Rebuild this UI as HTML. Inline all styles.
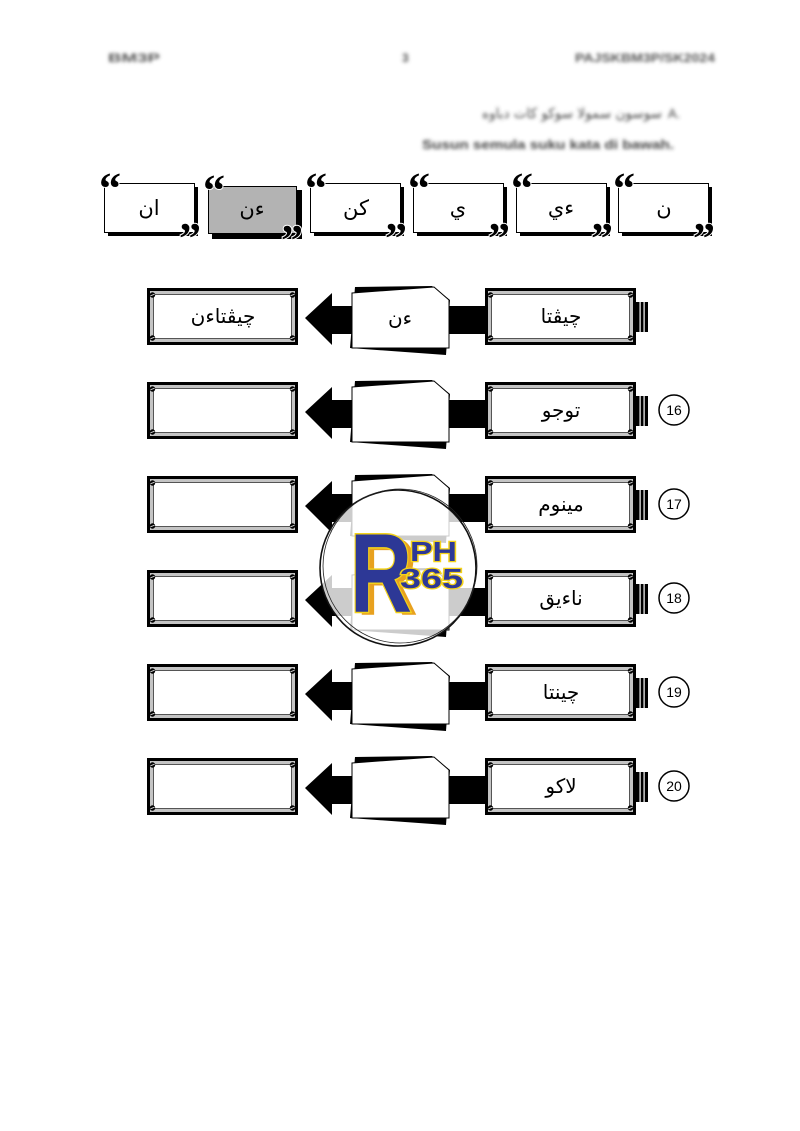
<!DOCTYPE html>
<html><head><meta charset="utf-8"><style>
html,body{margin:0;padding:0;background:#fff;}
svg{display:block;}
.ar{font-family:"DejaVu Sans","Liberation Sans",sans-serif;}
</style></head><body>
<svg width="800" height="1131" viewBox="0 0 800 1131" xmlns="http://www.w3.org/2000/svg">
<defs>
<filter id="bl" x="-10%" y="-50%" width="120%" height="200%"><feGaussianBlur stdDeviation="1.9"/></filter>
<g id="frame">
  <rect x="1.5" y="1.5" width="148" height="54" fill="#fff" stroke="#000" stroke-width="3"/>
  <rect x="4.5" y="4.5" width="142" height="48" fill="none" stroke="#c4c4c4" stroke-width="3"/>
  <rect x="6.5" y="6.5" width="138" height="44" fill="none" stroke="#555" stroke-width="1"/>
  <circle cx="5.5" cy="7" r="2.7" fill="#000"/><line x1="3.5" y1="7.6" x2="7.5" y2="6.4" stroke="#fff" stroke-width="0.8"/>
  <circle cx="145.5" cy="7" r="2.7" fill="#000"/><line x1="143.5" y1="7.6" x2="147.5" y2="6.4" stroke="#fff" stroke-width="0.8"/>
  <circle cx="5.5" cy="50" r="2.7" fill="#000"/><line x1="3.5" y1="50.6" x2="7.5" y2="49.4" stroke="#fff" stroke-width="0.8"/>
  <circle cx="145.5" cy="50" r="2.7" fill="#000"/><line x1="143.5" y1="50.6" x2="147.5" y2="49.4" stroke="#fff" stroke-width="0.8"/>
</g>
<g id="mid">
  <polygon points="305,30 332,5 332,18 486,18 486,46 332,46 332,57" fill="#000"/>
  <polygon points="355,-1 432,-2 450,12 446,67 350,60" fill="#000"/>
  <polygon points="352,5 434,-1 449,12 449,60 352,60" fill="#fff" stroke="#000" stroke-width="1"/>
</g>
<g id="stub">
  <rect x="636" y="14" width="12" height="30" fill="#000"/>
  <rect x="639.5" y="14" width="1.2" height="30" fill="#fff"/>
  <rect x="643.5" y="14" width="1.2" height="30" fill="#fff"/>
</g>
<g id="tb">
  <rect x="4" y="4" width="90" height="49" fill="#000"/>
</g>
</defs>

<!-- blurred header -->
<g filter="url(#bl)" fill="#555" font-family="Liberation Sans, sans-serif" font-weight="bold">
  <text x="108" y="62" font-size="12" textLength="52" lengthAdjust="spacingAndGlyphs">BM3P</text>
  <text x="402" y="62" font-size="12">3</text>
  <text x="575" y="62" font-size="12" textLength="140" lengthAdjust="spacingAndGlyphs">PAJSKBM3P/SK2024</text>
</g>
<g filter="url(#bl)" fill="#444">
  <text class="ar" x="572" y="118" font-size="14" text-anchor="middle" textLength="180" lengthAdjust="spacingAndGlyphs">سوسون سمولا سوکو کات دباوه</text>
  <text x="668" y="118" font-size="13" font-family="Liberation Sans, sans-serif">A.</text>
  <text x="422" y="149" font-size="13" font-weight="bold" font-family="Liberation Sans, sans-serif" textLength="252" lengthAdjust="spacingAndGlyphs">Susun semula suku kata di bawah.</text>
</g>

<!-- top syllable boxes -->
<g>
  <use href="#tb" x="104" y="183"/><rect x="104.5" y="183.5" width="90" height="49" fill="#fff" stroke="#000"/>
  <use href="#tb" x="208" y="186"/><rect x="208.5" y="186.5" width="88" height="47" fill="#b3b3b3" stroke="#000"/>
  <use href="#tb" x="310" y="183"/><rect x="310.5" y="183.5" width="90" height="49" fill="#fff" stroke="#000"/>
  <use href="#tb" x="413" y="183"/><rect x="413.5" y="183.5" width="90" height="49" fill="#fff" stroke="#000"/>
  <use href="#tb" x="516" y="183"/><rect x="516.5" y="183.5" width="90" height="49" fill="#fff" stroke="#000"/>
  <use href="#tb" x="618" y="183"/><rect x="618.5" y="183.5" width="90" height="49" fill="#fff" stroke="#000"/>
</g>
<g class="ar" font-size="21" text-anchor="middle" fill="#000">
  <text x="149" y="215">ان</text>
  <text x="252" y="216">ءن</text>
  <text x="356" y="215">كن</text>
  <text x="458" y="215">ي</text>
  <text x="561" y="215">ءي</text>
  <text x="664" y="215">ن</text>
</g>
<g font-family="Liberation Serif, serif" font-weight="bold" font-size="44" fill="#000" stroke="#fff" stroke-width="2" paint-order="stroke">
  <text x="99" y="203">“</text><text x="179" y="253">”</text>
  <text x="203" y="205">“</text><text x="281" y="255">”</text>
  <text x="305" y="203">“</text><text x="385" y="253">”</text>
  <text x="408" y="203">“</text><text x="488" y="253">”</text>
  <text x="511" y="203">“</text><text x="591" y="253">”</text>
  <text x="613" y="203">“</text><text x="693" y="253">”</text>
</g>

<!-- rows -->
<g>
  <use href="#mid" x="0" y="288"/><use href="#frame" x="147" y="288"/><use href="#frame" x="485" y="288"/><use href="#stub" x="0" y="288"/>
  <use href="#mid" x="0" y="382"/><use href="#frame" x="147" y="382"/><use href="#frame" x="485" y="382"/><use href="#stub" x="0" y="382"/>
  <use href="#mid" x="0" y="476"/><use href="#frame" x="147" y="476"/><use href="#frame" x="485" y="476"/><use href="#stub" x="0" y="476"/>
  <use href="#mid" x="0" y="570"/><use href="#frame" x="147" y="570"/><use href="#frame" x="485" y="570"/><use href="#stub" x="0" y="570"/>
  <use href="#mid" x="0" y="664"/><use href="#frame" x="147" y="664"/><use href="#frame" x="485" y="664"/><use href="#stub" x="0" y="664"/>
  <use href="#mid" x="0" y="758"/><use href="#frame" x="147" y="758"/><use href="#frame" x="485" y="758"/><use href="#stub" x="0" y="758"/>
</g>
<g class="ar" font-size="20" text-anchor="middle" fill="#000">
  <text x="223" y="323">چيڤتاءن</text>
  <text x="400" y="325">ءن</text>
  <text x="561" y="323">چيڤتا</text>
  <text x="561" y="417">توجو</text>
  <text x="561" y="511">مينوم</text>
  <text x="561" y="605">ناءيق</text>
  <text x="561" y="699">چينتا</text>
  <text x="561" y="793">لاكو</text>
</g>
<g fill="#fff" stroke="#000" stroke-width="1.5">
  <circle cx="674" cy="410" r="15"/>
  <circle cx="674" cy="504" r="15"/>
  <circle cx="674" cy="598" r="15"/>
  <circle cx="674" cy="692" r="15"/>
  <circle cx="674" cy="786" r="15"/>
</g>
<g font-family="Liberation Sans, sans-serif" font-size="14" text-anchor="middle" fill="#000">
  <text x="674" y="415">16</text>
  <text x="674" y="509">17</text>
  <text x="674" y="603">18</text>
  <text x="674" y="697">19</text>
  <text x="674" y="791">20</text>
</g>

<!-- watermark logo -->
<g>
  <circle cx="398" cy="568" r="78" fill="#fff" fill-opacity="0.8" stroke="#111" stroke-width="1.6"/>
  <circle cx="400" cy="566" r="77" fill="none" stroke="#222" stroke-width="0.8"/>
  <g font-family="Liberation Sans, sans-serif" font-weight="bold">
    <text x="356" y="615" font-size="112" fill="#e8a11f" textLength="62" lengthAdjust="spacingAndGlyphs">R</text>
    <text x="350" y="612" font-size="112" fill="#2d3896" stroke="#f3d21a" stroke-width="3" paint-order="stroke" textLength="62" lengthAdjust="spacingAndGlyphs">R</text>
    <text x="410" y="561" font-size="28" fill="#2d3896" stroke="#f3d21a" stroke-width="2.5" paint-order="stroke" textLength="47" lengthAdjust="spacingAndGlyphs">PH</text>
    <text x="400" y="588" font-size="28" fill="#2d3896" stroke="#f3d21a" stroke-width="2.5" paint-order="stroke" textLength="63" lengthAdjust="spacingAndGlyphs">365</text>
  </g>
</g>
</svg>
</body></html>
